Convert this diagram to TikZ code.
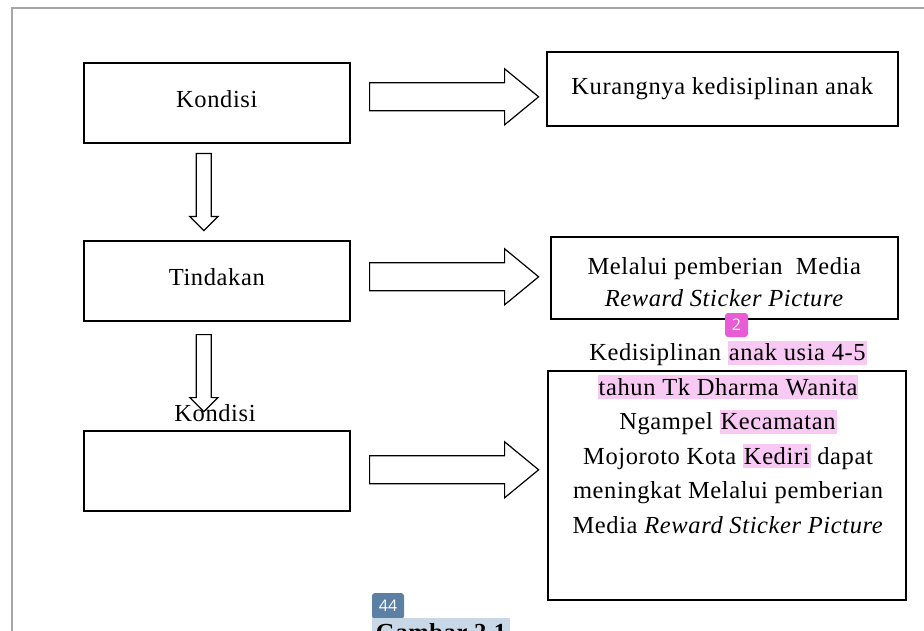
\documentclass[tikz,border=0pt]{standalone}
\usepackage{fontspec}
\setmainfont[LetterSpace=2.5]{Liberation Serif}
\newfontfamily\lencanafont{Open Sans}
\usetikzlibrary{positioning}
\definecolor{merahmuda}{RGB}{248,202,243}
\definecolor{ungu}{RGB}{232,92,214}
\definecolor{biruabu}{RGB}{92,128,164}
\definecolor{birumuda}{RGB}{200,216,230}
\newcommand{\stabilo}[1]{{\setlength{\fboxsep}{1pt}\colorbox{merahmuda}{\rule[-3pt]{0pt}{22pt}#1}}}
% panah blok ke kanan: node, geser x, geser y
\newcommand{\panahkanan}[3]{\draw[blok] (#1) ++(#2,#3) ++(0,-14) -- ++(135,0) -- ++(0,-14) -- ++(34,28) -- ++(-34,28) -- ++(0,-14) -- ++(-135,0) -- cycle;}
% panah blok ke bawah
\newcommand{\panahbawah}[3]{\draw[blok] (#1) ++(#2,#3) ++(-7.5,0) -- ++(0,63) -- ++(-6.5,0) -- ++(14,14) -- ++(14,-14) -- ++(-6.5,0) -- ++(0,-63) -- cycle;}
\tikzset{
	kotak/.style={draw,line width=1.6pt,anchor=north west,inner sep=0pt,font=\fontsize{24.5}{32}\selectfont,align=center},
	naik/.style={text height=17pt,text depth=8pt},
	blok/.style={draw,line width=1.2pt,fill=white,line join=miter},
	teks/.style={font=\fontsize{24.5}{32}\selectfont,inner sep=0pt},
	lencana/.style={rounded corners=3pt,text=white,inner sep=0pt,font=\lencanafont\fontsize{16}{16}\selectfont}
}
\begin{document}
\begin{tikzpicture}[x=1pt,y=-1pt]
	\useasboundingbox (0,0) rectangle (924,631);
	\clip (0,0) rectangle (924,631);
	%bingkai halaman
	\draw[gray!70,line width=2pt] (12,650) -- (12,8) -- (940,8);
	%kotak kiri
	\node[kotak,naik,minimum width=266,minimum height=80] (kondisi) at (83,62) {Kondisi};
	\node[kotak,naik,minimum width=266,minimum height=80] (tindakan) at (83,240) {Tindakan};
	\node[kotak,minimum width=266,minimum height=80] (kosong) at (83,430) {};
	\node[teks] (kondisi2) at (215,413) {Kondisi};
	%kotak kanan
	\node[kotak,minimum width=351,minimum height=74] (kurang) at (546,51) {Kurangnya kedisiplinan anak};
	\node[kotak,minimum width=347,minimum height=82,text height=57pt,text depth=0pt] (melalui) at (550,236)
		{Melalui pemberian\ \ Media\\ \textit{Reward Sticker Picture}};
	\node[kotak,minimum width=358,minimum height=229] (hasil) at (547,370) {};
	\foreach \baris [count=\i] in {
		{Kedisiplinan \stabilo{anak usia 4-5}},
		{\stabilo{tahun Tk Dharma Wanita}},
		{Ngampel \stabilo{Kecamatan}},
		{Mojoroto Kota \stabilo{Kediri} dapat},
		{meningkat Melalui pemberian},
		{Media \textit{Reward Sticker Picture}}}
	{
		\node[teks,anchor=base] (baris\i) at (728,{326+34.5*\i}) {\baris};
	}
	%panah
	\panahbawah{kondisi.south}{-13}{10}
	\panahbawah{tindakan.south}{-13}{13}
	\panahkanan{kondisi.east}{19}{-6}
	\panahkanan{tindakan.east}{19}{-4}
	\panahkanan{kosong.east}{19}{-1}
	%lencana
	\node[lencana,fill=ungu,minimum width=23,minimum height=24] (n2) at (736.5,325) {2};
	\node[lencana,fill=biruabu,minimum width=32,minimum height=26] (n44) at (388,606) {44};
	\node[teks,fill=birumuda,anchor=base,inner xsep=4pt,inner ysep=5pt,font=\bfseries\fontsize{24.5}{32}\selectfont] (gambar) at (441,640) {Gambar 2.1};
\end{tikzpicture}
\end{document}
